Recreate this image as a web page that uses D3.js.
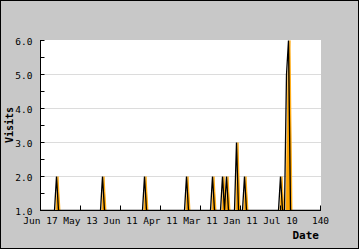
<!DOCTYPE html>
<html>
  <head>
    <meta charset="utf-8" />
    <title>Visits by date</title>
    <style>
      body { margin: 0; background: #fff; }
      .tick-label { font-family: "DejaVu Sans Mono", monospace; font-size: 9.5px; fill: #000; }
      .axis-title { font-family: "DejaVu Sans Mono", monospace; font-weight: bold; fill: #000; }
    </style>
  </head>
  <body>
    <div id="chart"></div>

    <script src="https://d3js.org/d3.v7.min.js"></script>
    <script>
      // x = day index, visits (1 is the baseline)
      var days = [0, 7, 8, 9, 30, 31, 32, 51, 52, 53, 72, 73, 74, 85, 86, 87,
        90, 91, 92, 93, 94, 97, 98, 99, 101, 102, 103, 119, 120, 121, 122, 123, 124, 125, 140];
      var visits = [1, 1, 2, 1, 1, 2, 1, 1, 2, 1, 1, 2, 1, 1, 2, 1,
        1, 2, 1, 2, 1, 1, 3, 1, 1, 2, 1, 1, 2, 1, 1, 5, 6, 1, 1];

      var xTickValues = [0, 20, 40, 60, 80, 100, 120, 140];
      var xTickLabels = ["Jun 17", "May 13", "Jun 11", "Apr 11", "Mar 11", "Jan 11", "Jul 10", "140"];
      var yTickValues = [1, 2, 3, 4, 5, 6];

      var data = days.map(function (d, i) {
        return { day: d, v: visits[i] };
      });

      var width = 360, height = 250;
      var plot = { left: 40, top: 40, right: 321, bottom: 211 };

      var svg = d3.select("#chart").append("svg")
        .attr("width", width)
        .attr("height", height);

      // gray background + frame
      svg.append("rect")
        .attr("x", 0.5).attr("y", 0.5)
        .attr("width", 358).attr("height", 248)
        .attr("fill", "#c8c8c8")
        .attr("stroke", "#000");

      // plot area
      svg.append("rect")
        .attr("x", plot.left).attr("y", plot.top)
        .attr("width", plot.right - plot.left)
        .attr("height", plot.bottom - plot.top)
        .attr("fill", "#fff");

      const x = d3.scaleLinear().domain([0, 140]).range([40.5, 320.5]);
      const y = d3.scaleLinear().domain([1, 6]).range([210.5, 40.5]);

      // horizontal grid
      svg.append("g").selectAll("line")
        .data(yTickValues.slice(1, 5))
        .enter().append("line")
        .attr("x1", 41).attr("x2", 321)
        .attr("y1", d => y(d)).attr("y2", d => y(d))
        .attr("stroke", "#dcdcdc");

      svg.append("clipPath").attr("id", "clip")
        .append("rect")
        .attr("x", plot.left).attr("y", plot.top - 1)
        .attr("width", plot.right - plot.left)
        .attr("height", plot.bottom - plot.top + 1);

      var marks = svg.append("g").attr("clip-path", "url(#clip)");

      var area = d3.area()
        .x(d => x(d.day) + 1.5)
        .y0(y(1))
        .y1(d => y(d.v));

      var line = d3.line()
        .x(d => x(d.day))
        .y(d => y(d.v));

      marks.append("path").datum(data)
        .attr("d", area)
        .attr("fill", "#ffa500")
        .attr("stroke", "#ffa500")
        .attr("stroke-width", 0.8);

      marks.append("path").datum(data)
        .attr("d", line)
        .attr("fill", "none")
        .attr("stroke", "#000")
        .attr("stroke-width", 1.3);

      // y axis (ticks inside)
      var yAxis = svg.append("g").attr("transform", "translate(40.5,0)");
      yAxis.append("line")
        .attr("y1", 40).attr("y2", 211)
        .attr("stroke", "#000");
      yAxis.selectAll(".ymaj")
        .data(d3.range(1, 6.01, 0.5))
        .enter().append("line")
        .attr("x1", 0).attr("x2", 4)
        .attr("y1", d => y(d)).attr("y2", d => y(d))
        .attr("stroke", "#000");
      yAxis.selectAll("text")
        .data(yTickValues)
        .enter().append("text")
        .attr("class", "tick-label")
        .attr("x", -8)
        .attr("y", d => y(d) + 4.5)
        .attr("text-anchor", "end")
        .text(d => d3.format(".1f")(d));

      // x axis (ticks inside)
      var xAxis = svg.append("g").attr("transform", "translate(0,210.5)");
      xAxis.append("line")
        .attr("x1", 40).attr("x2", 321)
        .attr("stroke", "#000");
      xAxis.selectAll(".xt")
        .data(xTickValues)
        .enter().append("line")
        .attr("x1", d => x(d)).attr("x2", d => x(d))
        .attr("y1", 0).attr("y2", -5)
        .attr("stroke", "#000");
      xAxis.selectAll("text")
        .data(xTickValues)
        .enter().append("text")
        .attr("class", "tick-label")
        .attr("x", d => x(d))
        .attr("y", 13.5)
        .attr("text-anchor", "middle")
        .text((d, i) => xTickLabels[i]);

      // axis titles
      svg.append("text")
        .attr("class", "axis-title")
        .attr("transform", "translate(13,125) rotate(-90)")
        .attr("text-anchor", "middle")
        .style("font-size", "10px")
        .text("Visits");

      svg.append("text")
        .attr("class", "axis-title")
        .attr("x", 319).attr("y", 239)
        .attr("text-anchor", "end")
        .style("font-size", "11px")
        .text("Date");
    </script>
  </body>
</html>
